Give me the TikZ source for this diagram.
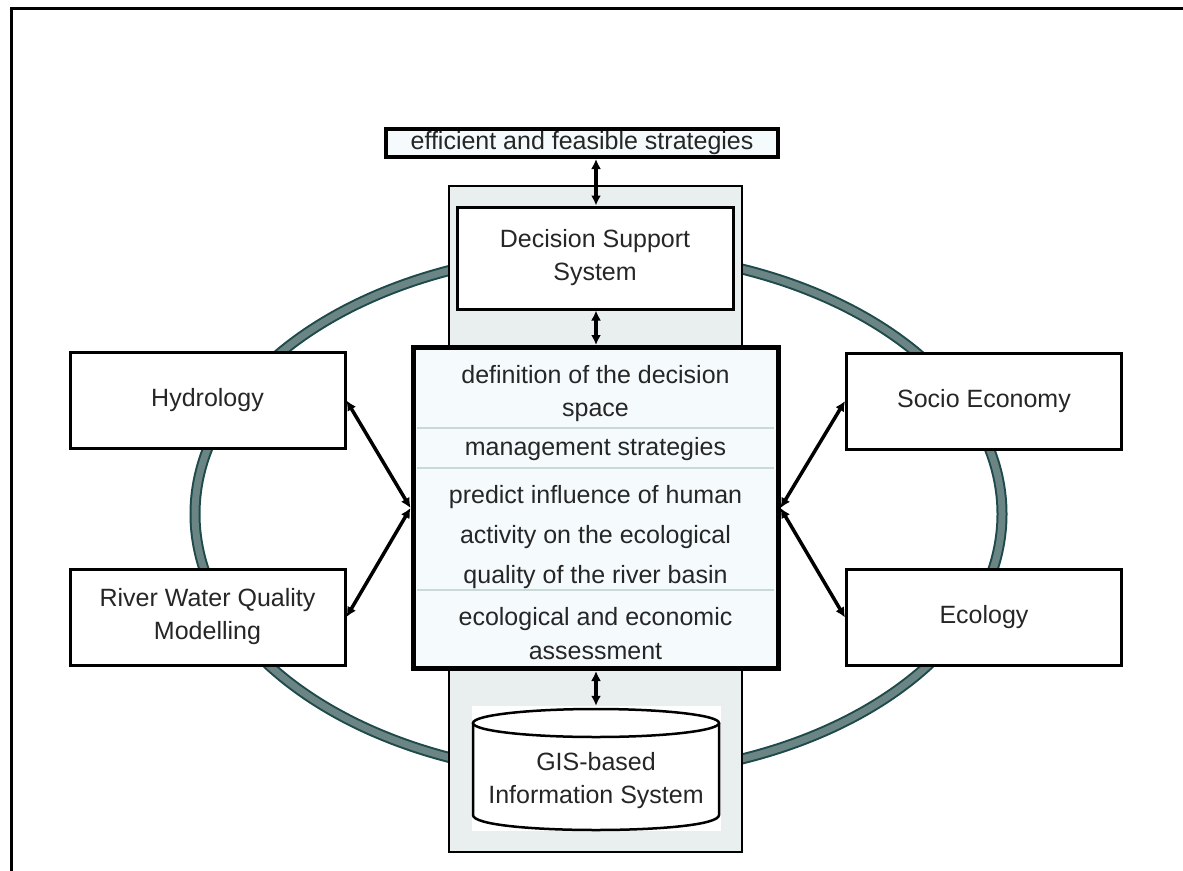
\documentclass[tikz,border=0pt]{standalone}
\usepackage{fontspec}
\setmainfont{Liberation Sans}
\usetikzlibrary{arrows.meta,calc}
\definecolor{txt}{HTML}{262626}
\definecolor{panelfill}{HTML}{E9EFEF}
\definecolor{corefill}{HTML}{F5FAFC}
\definecolor{divider}{HTML}{C9D9D6}
\definecolor{ringdark}{HTML}{1E4A4B}
\definecolor{ringmid}{HTML}{6A8584}
\tikzset{
  x=1pt, y=-1pt,
  every node/.style={font=\fontsize{25}{33}\selectfont, text=txt, align=center, inner sep=0pt},
  sidebox/.style={draw=black, line width=3pt, fill=white, minimum width=275pt, minimum height=96pt},
  dbl/.style={{Latex[length=10pt,width=10pt]}-{Latex[length=10pt,width=10pt]}, line width=3.5pt, black},
  secline/.style={divider, line width=2.5pt},
}
\begin{document}
\begin{tikzpicture}
\useasboundingbox (0,0) rectangle (1183,870);
\fill[white] (0,0) rectangle (1183,870);
% frame (top and left edges)
\draw[line width=3pt, line cap=rect] (1183,8) -- (11,8) -- (11,870);
% ring
\draw[ringdark, line width=11pt] (598.5,514) ellipse [x radius=403.5, y radius=262];
\draw[ringmid, line width=7pt] (598.5,514) ellipse [x radius=403.5, y radius=262];
% grey panel
\node[draw=black, line width=2.5pt, fill=panelfill, minimum width=293pt, minimum height=666pt] (panel) at (595.5,519) {};
% top box
\node[draw=black, line width=4pt, fill=corefill, minimum width=392pt, minimum height=28pt] (top) at (582,143) {efficient and feasible strategies};
% DSS
\node[draw=black, line width=3pt, fill=white, minimum width=276pt, minimum height=102pt] (dss) at (595,258) {Decision Support\\System};
% central box
\node[draw=black, line width=5pt, fill=corefill, minimum width=365pt, minimum height=321pt] (core) at (595.5,508) {};
\draw[secline] (417,428) -- (774,428);
\draw[secline] (417,468) -- (774,468);
\draw[secline] (417,590) -- (774,590);
\node (s1) at (595.5,394) {definition of the decision\\space};
\node (s2) at (595.5,449) {management strategies};
\node[font=\fontsize{25}{40}\selectfont] (s3) at (595.5,537) {predict influence of human\\activity on the ecological\\quality of the river basin};
\node[font=\fontsize{25}{34}\selectfont] (s4) at (595.5,634) {ecological and economic\\assessment};
% GIS cylinder
\node[fill=white, minimum width=249pt, minimum height=125pt] (gis) at (596.5,768.5) {};
\draw[line width=2.5pt, fill=white] (473,723) -- (473,815) .. controls (473,835) and (719,835) .. (719,815) -- (719,723);
\draw[line width=2.5pt, fill=white] (596,723) ellipse [x radius=123, y radius=14];
\node (gistext) at (596,781) {GIS-based\\Information System};
% side boxes
\node[sidebox] (hyd) at (207.5,400.5) {Hydrology};
\node[sidebox] (rwq) at (207.5,617) {River Water Quality\\Modelling};
\node[sidebox] (soc) at (984,401) {Socio Economy};
\node[sidebox] (eco) at (984,617.5) {Ecology};
% connectors
\draw[dbl] (top.south -| 596,0) -- (dss.north -| 596,0);
\draw[dbl] (dss.south -| 596,0) -- (core.north -| 596,0);
\draw[dbl] (core.south -| 596,0) -- (gis.north -| 596,0);
\draw[dbl] (hyd.east) -- (core.west);
\draw[dbl] (rwq.east) -- (core.west);
\draw[dbl] (soc.west) -- (core.east);
\draw[dbl] (eco.west) -- (core.east);
\end{tikzpicture}
\end{document}
